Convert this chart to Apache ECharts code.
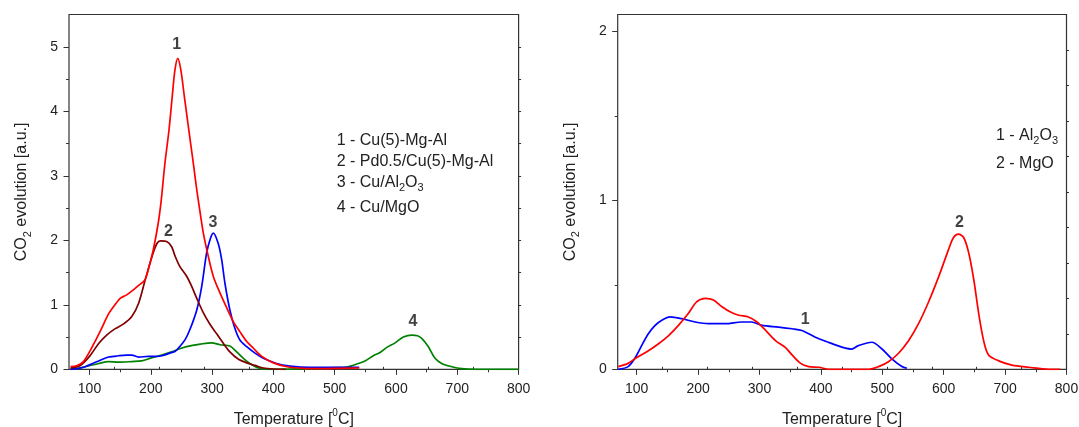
<!DOCTYPE html>
<html><head><meta charset="utf-8">
<script src="https://cdn.jsdelivr.net/npm/echarts@6/dist/echarts.min.js"></script>
<style>html,body{margin:0;padding:0;background:#fff}#c{width:1079px;height:427px}</style>
</head><body><div id="c"></div><script>
// ---------- data ----------
const xTickLabels = [100, 200, 300, 400, 500, 600, 700, 800];
const xMinorTicks = [150, 250, 350, 450, 550, 650, 750];
const yLeftLabels = [0, 1, 2, 3, 4, 5];
const yLeftMinor = [0.5, 1.5, 2.5, 3.5, 4.5];
const yLeftMirror = [0.5, 1, 1.5, 2, 2.5, 3, 3.5, 4, 4.5, 5];
const yRightLabels = [0, 1, 2];
const yRightMinor = [0.5, 1.5];
const mirrorTicks10 = [1, 2, 3, 4, 5, 6, 7, 8, 9];

const legendLeft = ['1 - Cu(5)-Mg-Al', '2 - Pd0.5/Cu(5)-Mg-Al', '3 - Cu/Al{sub|2}O{sub|3}', '4 - Cu/MgO'];
const legendRight = ['1 - Al{sub|2}O{sub|3}', '2 - MgO'];

// Left panel series
const cuMgAl = [[69,0.04],[80,0.06],[90,0.12],[100,0.27],[110,0.45],[120,0.64],[130,0.84],[140,0.98],[150,1.10],[160,1.15],[170,1.22],[180,1.30],[190,1.38],[196,1.55],[204,1.85],[212,2.26],[217,2.62],[223,3.19],[229.7,3.71],[235,4.23],[239.4,4.64],[244,4.82],[249,4.64],[254.7,4.23],[261,3.78],[265,3.5],[270,3.15],[274,2.85],[277.5,2.62],[285.7,2.11],[293.8,1.75],[302,1.44],[313,1.18],[324,0.95],[334.6,0.74],[345.6,0.58],[356.5,0.43],[367,0.33],[381,0.20],[400,0.10],[422,0.04],[449,0.015],[480,0.01],[510,0.015],[540,0.02]];
const pdCuMgAl = [[69,0.02],[85,0.06],[100,0.20],[115,0.40],[128,0.53],[142,0.63],[155,0.70],[169,0.82],[180,1.02],[191,1.39],[202,1.75],[210,1.95],[216,1.99],[226,1.98],[234,1.90],[239,1.77],[247,1.60],[258,1.45],[266,1.30],[275,1.10],[286,0.87],[297,0.69],[307.5,0.55],[318.5,0.40],[329,0.27],[343,0.155],[356.5,0.10],[370,0.06],[384,0.02],[400,0.005],[420,0.0]];
const cuAl2O3 = [[69,0.0],[80,0.01],[93,0.04],[105,0.09],[115,0.13],[131,0.19],[140,0.20],[147,0.21],[160,0.22],[169,0.22],[180,0.19],[196,0.20],[210,0.20],[218,0.21],[231,0.25],[240,0.28],[247,0.35],[256,0.46],[264,0.62],[275,0.92],[283,1.28],[291,1.80],[297,2.02],[302,2.11],[310,1.95],[315.6,1.70],[321,1.33],[329,0.92],[337,0.64],[345.6,0.45],[356.5,0.35],[370,0.25],[383.6,0.17],[405,0.09],[427,0.05],[460,0.03],[500,0.03],[540,0.03]];
const cuMgO = [[69,0.0],[80,0.01],[93,0.04],[115,0.09],[131,0.12],[147,0.11],[169,0.12],[185,0.13],[202,0.18],[218,0.22],[234,0.27],[251,0.33],[268,0.37],[280.6,0.39],[299,0.41],[313,0.38],[329,0.36],[340,0.27],[351,0.17],[364.6,0.07],[378,0.015],[400,0.0],[467,0.01],[500.5,0.025],[522,0.04],[538.6,0.09],[549.5,0.13],[563,0.21],[574,0.26],[585,0.34],[598.5,0.41],[612,0.50],[625.7,0.53],[635,0.52],[642,0.48],[652.8,0.35],[663.7,0.17],[674.6,0.09],[691,0.04],[707,0.01],[730,0.0],[800,0.0]];

// Right panel series
const al2o3 = [[70,0.0],[86,0.016],[97,0.065],[108,0.14],[119,0.21],[130,0.26],[141,0.29],[154,0.31],[173,0.30],[195,0.28],[217,0.27],[244,0.27],[271,0.28],[287,0.28],[304,0.26],[331,0.25],[353,0.24],[369,0.23],[391,0.19],[412,0.16],[440,0.125],[450,0.12],[461,0.14],[483,0.16],[499.5,0.12],[516,0.06],[532,0.016],[540,0.006]];
const mgo = [[70,0.016],[86,0.035],[100,0.07],[119,0.11],[135,0.15],[152,0.20],[168,0.26],[184,0.33],[198,0.40],[212,0.42],[225,0.41],[239,0.37],[252,0.34],[266,0.32],[282,0.31],[296,0.28],[310,0.23],[326,0.17],[342,0.13],[353,0.085],[367,0.035],[380,0.016],[397,0.012],[413,0.0],[440,0.0],[478,0.0],[494,0.016],[510,0.045],[526.5,0.095],[543,0.17],[559,0.27],[575.5,0.40],[592,0.55],[608,0.71],[616,0.78],[624,0.80],[632.5,0.78],[640.7,0.69],[649,0.53],[657,0.33],[665,0.17],[673,0.085],[689.6,0.05],[711,0.025],[738.5,0.012],[771,0.0],[790,0.0]];

// Peak annotation labels [T, value, text]
const peakLabelsLeft = [[242.3,5.03,'1'],[228.6,2.14,'2'],[301.2,2.28,'3'],[627.8,0.74,'4']];
const peakLabelsRight = [[374.4,0.297,'1'],[625.8,0.87,'2']];

// ---------- styling / options ----------
const FONT = "'Liberation Sans', Arial, Helvetica, sans-serif";
const AXC = '#333';
const TXT = '#222';

function tickOnly(o, values, len, pos) {
  return Object.assign({
    type: 'value', position: pos,
    axisLine: { show: false }, splitLine: { show: false }, axisLabel: { show: false },
    axisTick: { show: true, inside: false, length: len, customValues: values, lineStyle: { color: AXC, width: 1 } }
  }, o);
}
const richSub = { sub: { fontSize: 11, lineHeight: 10, verticalAlign: 'bottom', fontFamily: FONT, color: TXT } };
const xName = {
  name: 'Temperature [{sup|0}C]', nameLocation: 'middle', nameGap: 39,
  nameTextStyle: { fontSize: 16, fontFamily: FONT, color: TXT, lineHeight: 22,
    rich: { sup: { fontSize: 10, lineHeight: 10, verticalAlign: 'top', fontFamily: FONT, color: TXT } } }
};
const yName = {
  name: 'CO{sub|2} evolution [a.u.]', nameLocation: 'middle', nameGap: 36,
  nameTextStyle: { fontSize: 16, fontFamily: FONT, color: TXT, lineHeight: 22, rich: richSub }
};
function mainX(o) {
  return Object.assign({
    type: 'value', position: 'bottom', max: 800,
    axisLine: { show: false }, splitLine: { show: false },
    axisTick: { show: true, inside: false, length: 5.5, customValues: xTickLabels, lineStyle: { color: AXC, width: 1 } },
    axisLabel: { show: true, customValues: xTickLabels, margin: 13, fontSize: 14, fontFamily: FONT, color: TXT }
  }, xName, o);
}
function mainY(o, labels) {
  return Object.assign({
    type: 'value', position: 'left', min: 0,
    axisLine: { show: false }, splitLine: { show: false },
    axisTick: { show: true, inside: false, length: 5.5, customValues: labels, lineStyle: { color: AXC, width: 1 } },
    axisLabel: { show: true, customValues: labels, margin: 11, fontSize: 14, fontFamily: FONT, color: TXT }
  }, yName, o);
}
function lineS(name, data, color, xi, yi) {
  return { type: 'line', name, data, xAxisIndex: xi, yAxisIndex: yi, showSymbol: false, smooth: 0.3,
    lineStyle: { color, width: 1.7 }, itemStyle: { color }, silent: true, z: 3 };
}
function labelS(data, xi, yi) {
  return { type: 'scatter', data, xAxisIndex: xi, yAxisIndex: yi, symbolSize: 0, silent: true, z: 5,
    label: { show: true, position: 'inside', formatter: p => p.value[2], fontSize: 16, fontWeight: 'bold', fontFamily: FONT, color: '#111' } };
}
function legendText(text, x, y) {
  return { type: 'text', x, y, silent: true,
    style: { text, fill: TXT, fontSize: 16, fontFamily: FONT, lineHeight: 22, align: 'left', verticalAlign: 'middle', rich: richSub } };
}

const leftMin = 66.56, rightMin = 69.05;

const option = {
  backgroundColor: '#fff',
  animation: false,
  grid: [
    { left: 69, top: 14.5, width: 449.6, height: 354.8, outerBoundsMode: 'none', containLabel: false, show: true, borderColor: AXC, borderWidth: 1.2, backgroundColor: 'transparent' },
    { left: 617.7, top: 14.5, width: 448.8, height: 354.8, outerBoundsMode: 'none', containLabel: false, show: true, borderColor: AXC, borderWidth: 1.2, backgroundColor: 'transparent' }
  ],
  xAxis: [
    mainX({ gridIndex: 0, min: leftMin }),
    tickOnly({ gridIndex: 0, min: leftMin, max: 800 }, xMinorTicks, 3, 'bottom'),
    tickOnly({ gridIndex: 0, min: 0, max: 10 }, mirrorTicks10, 2.5, 'top'),
    mainX({ gridIndex: 1, min: rightMin }),
    tickOnly({ gridIndex: 1, min: rightMin, max: 800 }, xMinorTicks, 3, 'bottom'),
    tickOnly({ gridIndex: 1, min: 0, max: 10 }, mirrorTicks10, 2.5, 'top')
  ],
  yAxis: [
    mainY({ gridIndex: 0, max: 5.5 }, yLeftLabels),
    tickOnly({ gridIndex: 0, min: 0, max: 5.5 }, yLeftMinor, 3, 'left'),
    tickOnly({ gridIndex: 0, min: 0, max: 5.5 }, yLeftMirror, 2.5, 'right'),
    mainY({ gridIndex: 1, max: 2.1 }, yRightLabels),
    tickOnly({ gridIndex: 1, min: 0, max: 2.1 }, yRightMinor, 3, 'left'),
    tickOnly({ gridIndex: 1, min: 0, max: 10 }, mirrorTicks10, 2.5, 'right')
  ],
  series: [
    lineS('Cu/MgO', cuMgO, '#008000', 0, 0),
    lineS('Cu/Al2O3', cuAl2O3, '#0000ff', 0, 0),
    lineS('Pd0.5/Cu(5)-Mg-Al', pdCuMgAl, '#800000', 0, 0),
    lineS('Cu(5)-Mg-Al', cuMgAl, '#ff0000', 0, 0),
    labelS(peakLabelsLeft, 0, 0),
    lineS('Al2O3', al2o3, '#0000ff', 3, 3),
    lineS('MgO', mgo, '#ff0000', 3, 3),
    labelS(peakLabelsRight, 3, 3)
  ],
  graphic: [
    legendText(legendLeft[0], 336.7, 140.7),
    legendText(legendLeft[1], 336.7, 161.8),
    legendText(legendLeft[2], 336.7, 182.5),
    legendText(legendLeft[3], 336.7, 207.5),
    legendText(legendRight[0], 996, 135.8),
    legendText(legendRight[1], 996, 163.7)
  ]
};
const chart = echarts.init(document.getElementById('c'), null, { renderer: 'canvas' });
chart.setOption(option);
</script></body></html>
